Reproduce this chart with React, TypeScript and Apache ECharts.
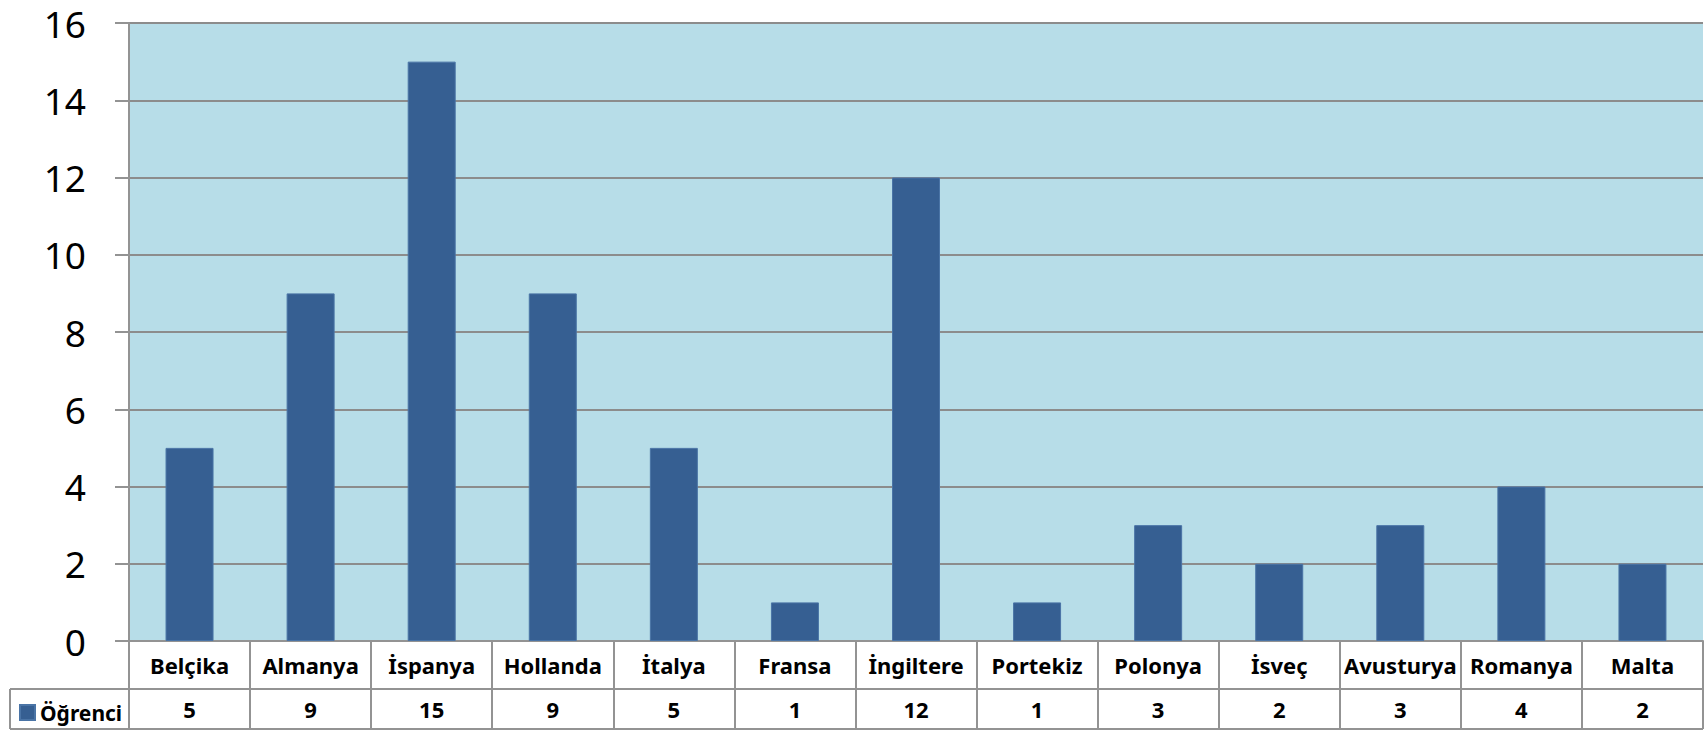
import React, { useEffect, useRef } from "react";
import * as echarts from "echarts";

const categories = ["Belçika", "Almanya", "İspanya", "Hollanda", "İtalya", "Fransa", "İngiltere", "Portekiz", "Polonya", "İsveç", "Avusturya", "Romanya", "Malta"];
const values = [5, 9, 15, 9, 5, 1, 12, 1, 3, 2, 3, 4, 2];
const seriesName = "Öğrenci";
const yTicks = { min: 0, max: 16, interval: 2 };

const W = 1706;
const H = 730;
const GRID = { left: 129, right: 3, top: 23, bottom: 89 };
const LINE = "#939393";
const FONT = "'Noto Sans', sans-serif";

export default function App() {
  const ref = useRef<HTMLDivElement>(null);
  useEffect(() => {
    if (!ref.current) return;
    const chart = echarts.init(ref.current, undefined, { renderer: "svg" });
    const row1 = H - GRID.bottom + 48;
    const row2 = H - 1;
    chart.setOption({
      animation: false,
      backgroundColor: "#ffffff",
      grid: { ...GRID, containLabel: false, show: true, backgroundColor: "#b7dde8", borderWidth: 0 },
      legend: {
        show: true,
        left: 19,
        top: 702,
        padding: 0,
        itemWidth: 15,
        itemHeight: 15,
        icon: "rect",
        selectedMode: false,
        textStyle: { fontFamily: FONT, fontSize: 21, fontWeight: "bold", color: "#000", padding: [0, 0, 0, 0] },
        data: [seriesName],
      },
      xAxis: [
        {
          type: "category",
          data: categories,
          boundaryGap: true,
          axisLine: { show: true, lineStyle: { color: LINE, width: 2 } },
          axisTick: { show: true, length: H - 1 - (H - GRID.bottom), lineStyle: { color: LINE, width: 2 } },
          axisLabel: { interval: 0, margin: 24, verticalAlign: "middle", fontFamily: FONT, fontSize: 22, fontWeight: "bold", color: "#000" },
          splitLine: { show: false },
        },
        {
          type: "category",
          data: categories,
          position: "bottom",
          boundaryGap: true,
          axisLine: { show: false },
          axisTick: { show: false },
          splitLine: { show: false },
          axisLabel: {
            interval: 0,
            margin: 68,
            verticalAlign: "middle",
            fontFamily: FONT,
            fontSize: 22,
            fontWeight: "bold",
            color: "#000",
            formatter: (_v: string, i: number) => String(values[i]),
          },
        },
      ],
      yAxis: {
        type: "value",
        min: yTicks.min,
        max: yTicks.max,
        interval: yTicks.interval,
        axisLine: { show: true, lineStyle: { color: LINE, width: 2 } },
        axisTick: { show: true, length: 14, lineStyle: { color: LINE, width: 2 } },
        axisLabel: { margin: 43, fontFamily: FONT, fontSize: 37, lineHeight: 38, color: "#000" },
        splitLine: { show: true, lineStyle: { color: "#8c8c8c", width: 2 } },
      },
      series: [
        {
          name: seriesName,
          type: "bar",
          data: values,
          barWidth: 48,
          itemStyle: { color: "#365f92", borderColor: "#4a74a6", borderWidth: 1 },
          xAxisIndex: 0,
        },
      ],
      graphic: [
        { type: "line", shape: { x1: 10, y1: row1, x2: W - GRID.right, y2: row1 }, style: { stroke: LINE, lineWidth: 2 } },
        { type: "line", shape: { x1: 10, y1: row2, x2: W - GRID.right, y2: row2 }, style: { stroke: LINE, lineWidth: 2 } },
        { type: "line", shape: { x1: 10, y1: row1, x2: 10, y2: row2 }, style: { stroke: LINE, lineWidth: 2 } },
      ],
    });
    return () => chart.dispose();
  }, []);
  return <div ref={ref} style={{ position: "fixed", left: 0, top: 0, width: W, height: H }} />;
}
